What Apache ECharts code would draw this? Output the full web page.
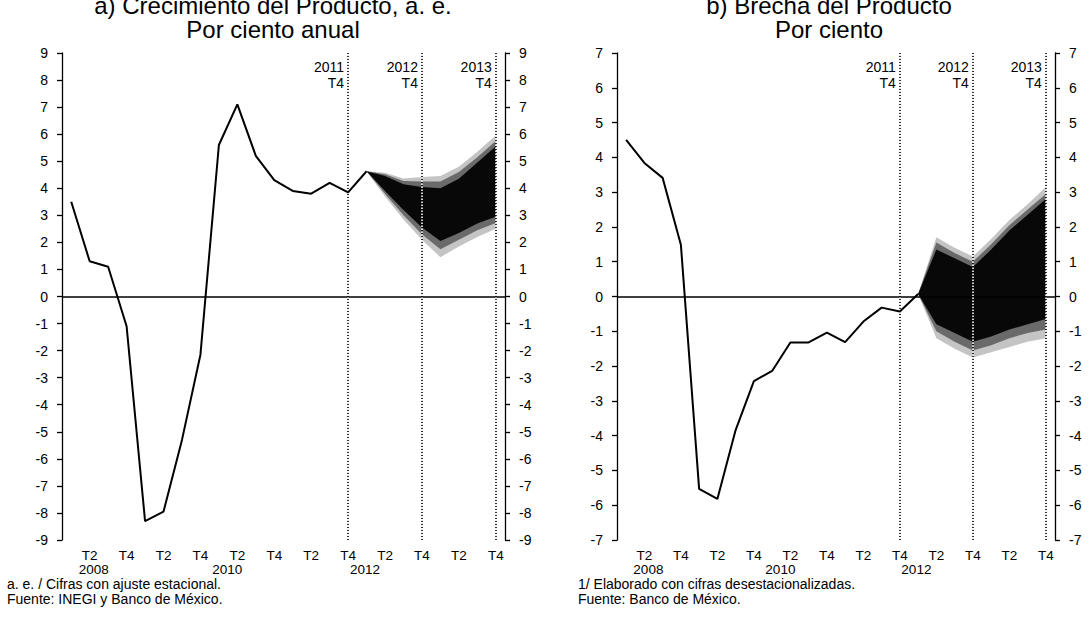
<!DOCTYPE html>
<html><head><meta charset="utf-8">
<script src="https://cdn.jsdelivr.net/npm/echarts@6/dist/echarts.min.js"></script>
<style>html,body{margin:0;padding:0;background:#fff}#c{width:1091px;height:635px}</style>
</head><body><div id="c"></div>
<script>
// ---------- data ----------
const categories = ['2008T1','2008T2','2008T3','2008T4','2009T1','2009T2','2009T3','2009T4',
  '2010T1','2010T2','2010T3','2010T4','2011T1','2011T2','2011T3','2011T4',
  '2012T1','2012T2','2012T3','2012T4','2013T1','2013T2','2013T3','2013T4'];
const tickLabels = ['','T2','','T4','','T2','','T4','','T2','','T4','','T2','','T4','','T2','','T4','','T2','','T4'];
const yearLabels = ['','2008','','','','','','','','2010','','','','','','','','2012','','','','','',''];
const markerCats = ['2011T4','2012T4','2013T4'];
const markerYears = ['2011','2012','2013'];
const markerQuarter = 'T4';
const fanCats = ['2012T1','2012T2','2012T3','2012T4','2013T1','2013T2','2013T3','2013T4'];

// a) Crecimiento del Producto (por ciento anual)
const growthHist = [3.5,1.3,1.1,-1.1,-8.3,-7.95,-5.3,-2.15,5.6,7.1,5.2,4.3,3.9,3.8,4.2,3.85,4.63];
const growthOuterHi = [4.63,4.57,4.36,4.42,4.45,4.8,5.35,5.95];
const growthOuterLo = [4.63,3.7,2.85,2.1,1.45,1.85,2.2,2.5];
const growthMidHi   = [4.63,4.52,4.27,4.25,4.25,4.6,5.15,5.75];
const growthMidLo   = [4.63,3.8,3.0,2.3,1.75,2.1,2.45,2.72];
const growthInnerHi = [4.63,4.45,4.15,4.05,4.0,4.35,4.95,5.55];
const growthInnerLo = [4.63,3.9,3.2,2.55,2.05,2.35,2.7,2.95];

// b) Brecha del Producto (por ciento)
const gapHist = [4.5,3.84,3.41,1.49,-5.53,-5.82,-3.84,-2.43,-2.14,-1.32,-1.32,-1.04,-1.31,-0.72,-0.32,-0.43,0.07];
const gapOuterHi = [0.07,1.7,1.4,1.15,1.65,2.2,2.65,3.15];
const gapOuterLo = [0.07,-1.2,-1.5,-1.75,-1.6,-1.45,-1.3,-1.2];
const gapMidHi   = [0.07,1.55,1.25,1.0,1.5,2.05,2.5,2.95];
const gapMidLo   = [0.07,-1.0,-1.3,-1.55,-1.4,-1.2,-1.05,-0.95];
const gapInnerHi = [0.07,1.35,1.1,0.85,1.35,1.9,2.35,2.8];
const gapInnerLo = [0.07,-0.8,-1.05,-1.3,-1.15,-0.95,-0.8,-0.65];

// ---------- helpers ----------
const FONT = '"Liberation Sans", Arial, sans-serif';
const TXT = '#000';
const fanStart = categories.indexOf(fanCats[0]);
function padFan(arr){ return categories.map((c,i)=> (i>=fanStart && i-fanStart<arr.length) ? arr[i-fanStart] : '-'); }
function padHist(arr){ return categories.map((c,i)=> i<arr.length ? arr[i] : '-'); }

function bandSeries(g, name, lo, hi, color, z){
  const base = padFan(lo);
  const width = padFan(hi.map((v,i)=> +(v - lo[i]).toFixed(3)));
  const common = {type:'line', xAxisIndex:g, yAxisIndex:2*g, stack:name+g, stackStrategy:'all',
    symbol:'none', silent:true, z:z, animation:false, lineStyle:{width:0,opacity:0}};
  return [
    Object.assign({}, common, {data:base}),
    Object.assign({}, common, {data:width, areaStyle:{color:color, opacity:1}})
  ];
}

function panelSeries(g, hist, oHi, oLo, mHi, mLo, iHi, iLo, labelY){
  const s = [];
  s.push({type:'line', xAxisIndex:g, yAxisIndex:2*g, data:[], z:1, silent:true,
    markLine:{symbol:'none', silent:true, label:{show:false}, animation:false,
      lineStyle:{color:'#000', type:[1.5,1.5], width:1.6},
      data: markerCats.map(c=>({xAxis:c}))}});
  s.push({type:'line', xAxisIndex:g, yAxisIndex:2*g, data:[], z:1, silent:true,
    markLine:{symbol:'none', silent:true, label:{show:false}, animation:false,
      lineStyle:{color:'#000', type:'solid', width:1.6},
      data:[{yAxis:0}]}});
  s.push(...bandSeries(g,'outer',oLo,oHi,'#c4c4c4',2));
  s.push(...bandSeries(g,'mid',mLo,mHi,'#6a6a6a',2));
  s.push(...bandSeries(g,'inner',iLo,iHi,'#080808',2));
  s.push({type:'line', xAxisIndex:g, yAxisIndex:2*g, data:[], z:4, silent:true,
    markLine:{symbol:'none', silent:true, label:{show:false}, animation:false,
      lineStyle:{color:'#fff', type:[1.5,1.5], dashOffset:1.5, width:1.6},
      data: markerCats.map(c=>({xAxis:c}))}});
  s.push({type:'line', xAxisIndex:g, yAxisIndex:2*g, data:padHist(hist), symbol:'none', z:5,
    lineStyle:{color:'#000', width:2}, silent:true, animation:false});
  s.push({type:'scatter', xAxisIndex:g, yAxisIndex:2*g, symbolSize:0, z:6, silent:true,
    itemStyle:{color:'#000', opacity:1},
    data: markerCats.map((c,i)=>({value:[c,labelY], name:markerYears[i]})),
    label:{show:true, position:'left', distance:4, align:'right', fontFamily:FONT, fontSize:14,
      color:'#000', opacity:1, textBorderWidth:0, lineHeight:16, formatter:p=>p.name+'\n'+markerQuarter}});
  return s;
}

function xAxisFor(g){
  return {type:'category', gridIndex:g, data:categories, boundaryGap:true,
    axisLine:{show:false}, axisTick:{show:false}, splitLine:{show:false},
    axisLabel:{interval:0, margin:8, fontFamily:FONT, fontSize:13.5, color:TXT, lineHeight:14,
      rich:{
        y0:{fontFamily:FONT, fontSize:13.5, color:TXT, lineHeight:14, padding:[0,0,0,8]},
        y1:{fontFamily:FONT, fontSize:13.5, color:TXT, lineHeight:14, padding:[0,20,0,0]},
        y2:{fontFamily:FONT, fontSize:13.5, color:TXT, lineHeight:14, padding:[0,40,0,0]}
      },
      formatter:(v,i)=> {
        const yi = yearLabels.filter(Boolean).indexOf(yearLabels[i]);
        return tickLabels[i] + (yearLabels[i] ? '\n{y'+yi+'|'+yearLabels[i]+'}' : '');
      }}};
}
function yAxisFor(g, pos, min, max){
  return {type:'value', gridIndex:g, position:pos, min:min, max:max, interval:1,
    axisLine:{show:true, onZero:false, lineStyle:{color:'#000', width:1.3}},
    axisTick:{show:true, length:5, lineStyle:{color:'#000', width:1.3}},
    splitLine:{show:false},
    axisLabel:{margin:14, fontFamily:FONT, fontSize:14, color:TXT}};
}

const chart = echarts.init(document.getElementById('c'), null, {renderer:'svg'});
chart.setOption({
  animation:false,
  backgroundColor:'#fff',
  grid:[{left:62, right:586, top:53, bottom:95},
        {left:617, right:36, top:53, bottom:95}],
  xAxis:[xAxisFor(0), xAxisFor(1)],
  yAxis:[yAxisFor(0,'left',-9,9), yAxisFor(0,'right',-9,9), yAxisFor(1,'left',-7,7), yAxisFor(1,'right',-7,7)]
    .map((a,i)=>Object.assign(a,{gridIndex: i<2?0:1})),
  graphic:[
    {type:'text', x:273, y:-7, style:{text:'a) Crecimiento del Producto, a. e.\nPor ciento anual', align:'center',
      fontFamily:FONT, fontSize:24, lineHeight:24, fill:TXT}},
    {type:'text', x:829, y:-7, style:{text:'b) Brecha del Producto\nPor ciento', align:'center',
      fontFamily:FONT, fontSize:24, lineHeight:24, fill:TXT}},
    {type:'text', x:7, y:576, style:{text:'a. e. / Cifras con ajuste estacional.\nFuente: INEGI y Banco de México.',
      fontFamily:FONT, fontSize:14, lineHeight:15, fill:TXT}},
    {type:'text', x:578, y:576, style:{text:'1/ Elaborado con cifras desestacionalizadas.\nFuente: Banco de México.',
      fontFamily:FONT, fontSize:14, lineHeight:15, fill:TXT}}
  ],
  series:[...panelSeries(0, growthHist, growthOuterHi, growthOuterLo, growthMidHi, growthMidLo, growthInnerHi, growthInnerLo, 8.2),
          ...panelSeries(1, gapHist, gapOuterHi, gapOuterLo, gapMidHi, gapMidLo, gapInnerHi, gapInnerLo, 6.38)]
});
</script></body></html>
